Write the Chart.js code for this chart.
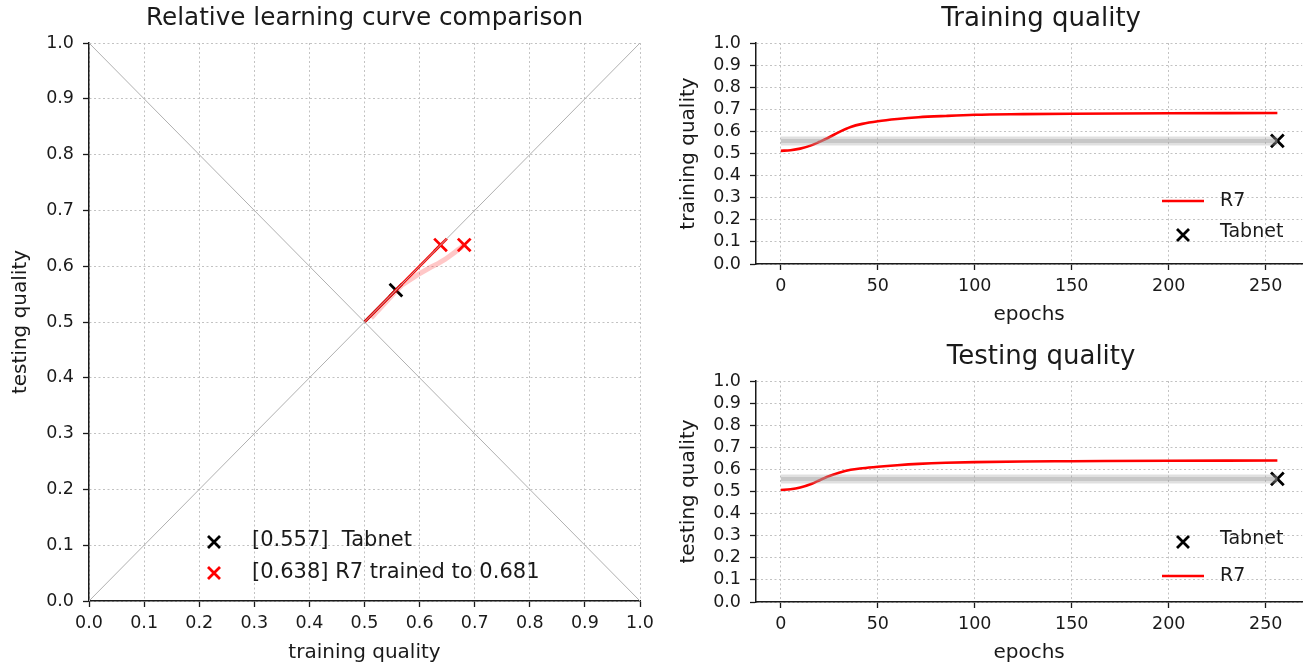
<!DOCTYPE html>
<html lang="en">
<head>
<meta charset="UTF-8">
<title>Relative learning curve comparison</title>
<script src="https://cdn.jsdelivr.net/npm/chart.js"></script>
<style>
  body { margin: 0; background: #fff; width: 1314px; height: 668px; overflow: hidden; }
  .box { position: absolute; }
</style>
</head>
<body>
<div class="box" style="left:0;top:0;width:660px;height:668px"><canvas id="relChart"></canvas></div>
<div class="box" style="left:660px;top:0;width:654px;height:330px"><canvas id="trainChart"></canvas></div>
<div class="box" style="left:660px;top:338px;width:654px;height:330px"><canvas id="testChart"></canvas></div>

<script>
// values
const epochs   = [0, 5, 10, 16, 20, 24, 30, 36, 42, 50, 60, 71, 85, 100, 125, 150, 200, 256];
const r7Train  = [0.512, 0.515, 0.522, 0.538, 0.553, 0.569, 0.597, 0.620, 0.634, 0.646, 0.656, 0.664, 0.670, 0.675, 0.678, 0.680, 0.682, 0.683];
const r7Test   = [0.507, 0.510, 0.518, 0.535, 0.551, 0.567, 0.585, 0.598, 0.605, 0.612, 0.619, 0.625, 0.630, 0.633, 0.636, 0.637, 0.639, 0.640];
const tabnetScore = 0.557;
const tabnetEpoch = 256;
const r7TestFinal = 0.638;
const r7TrainFinal = 0.681;
const chanceLevel = 0.5;

const qualityTicks = [0, 0.1, 0.2, 0.3, 0.4, 0.5, 0.6, 0.7, 0.8, 0.9, 1.0];
const epochTicks = [0, 50, 100, 150, 200, 250];

const FONT = '"DejaVu Sans", sans-serif';
const INK = '#1a1a1a';

Chart.defaults.font.family = FONT;
Chart.defaults.color = INK;
Chart.defaults.animation = false;

// title + hand placed legend, drawn like matplotlib
const extras = {
    id: 'extras',
    afterDraw(chart, args, opts) {
        const ctx = chart.ctx, area = chart.chartArea;
        ctx.save();
        ctx.fillStyle = INK;
        ctx.font = opts.titleSize + 'px ' + FONT;
        ctx.textAlign = 'center';
        ctx.textBaseline = 'middle';
        ctx.fillText(opts.title, (area.left + area.right) / 2 + (opts.titleShift || 0), opts.titleY);

        ctx.font = opts.legendSize + 'px ' + FONT;
        ctx.textAlign = 'left';
        opts.items.forEach((item, i) => {
            const y = opts.legendY + i * opts.legendGap;
            ctx.strokeStyle = item.color;
            if (item.kind === 'line') {
                ctx.lineWidth = 2.5;
                ctx.beginPath();
                ctx.moveTo(opts.markX - 21, y);
                ctx.lineTo(opts.markX + 21, y);
                ctx.stroke();
            } else {
                ctx.lineWidth = 2.8;
                ctx.beginPath();
                ctx.moveTo(opts.markX - 6, y - 6);
                ctx.lineTo(opts.markX + 6, y + 6);
                ctx.moveTo(opts.markX - 6, y + 6);
                ctx.lineTo(opts.markX + 6, y - 6);
                ctx.stroke();
            }
            ctx.fillText(item.label, opts.textX, y + (item.dy || 0));
        });
        ctx.restore();
    }
};

function gridStyle() {
    return {
        color: '#c2c2c2',
        lineWidth: 1,
        tickColor: INK,
        tickLength: 6,
        tickWidth: 1.3,
        tickBorderDash: []
    };
}

// in v4 border.dash styles the grid lines
function borderStyle() {
    return { display: true, color: INK, width: 1.5, dash: [2, 2.5] };
}

function qualityAxis(title, width, titlePad) {
    return {
        type: 'linear',
        min: 0,
        max: 1,
        afterBuildTicks: s => { s.ticks = qualityTicks.map(v => ({ value: v })); },
        afterFit: s => { s.width = width; },
        ticks: { font: { size: 17.5 }, padding: 9, autoSkip: false, callback: v => v.toFixed(1) },
        grid: gridStyle(),
        border: borderStyle(),
        title: { display: true, text: title, font: { size: 20 }, padding: { top: titlePad, bottom: 0 } }
    };
}

function bottomAxis(title, min, max, ticks, fmt, height) {
    return {
        type: 'linear',
        min: min,
        max: max,
        afterBuildTicks: s => { s.ticks = ticks.map(v => ({ value: v })); },
        afterFit: s => { s.height = height; },
        ticks: { font: { size: 17.5 }, padding: 6, autoSkip: false, maxRotation: 0, callback: fmt },
        grid: gridStyle(),
        border: borderStyle(),
        title: { display: true, text: title, font: { size: 20 }, padding: { top: 0, bottom: 3 } }
    };
}

function line(data, color, width, extra) {
    return Object.assign({
        data: data,
        showLine: true,
        borderColor: color,
        backgroundColor: color,
        borderWidth: width,
        pointRadius: 0,
        fill: false
    }, extra || {});
}

function marks(data, color) {
    return {
        data: data,
        showLine: false,
        pointStyle: 'crossRot',
        pointRadius: 9,
        pointBorderWidth: 2.8,
        borderColor: color,
        backgroundColor: color
    };
}

// left: relative comparison
const trajectory = epochs.map((e, i) => ({ x: r7Train[i], y: r7Test[i] }));

new Chart(document.getElementById('relChart'), {
    type: 'scatter',
    data: {
        datasets: [
            line([{ x: 0, y: 0 }, { x: 1, y: 1 }], '#b0b0b0', 1),
            line([{ x: 0, y: 1 }, { x: 1, y: 0 }], '#b0b0b0', 1),
            line(trajectory, 'rgba(255,30,30,0.25)', 5),
            line([{ x: chanceLevel, y: chanceLevel }, { x: r7TestFinal, y: r7TestFinal }], '#ff0000', 2.6),
            line([{ x: chanceLevel, y: chanceLevel }, { x: tabnetScore, y: tabnetScore }], '#000000', 2.6),
            marks([{ x: tabnetScore, y: tabnetScore }], '#000000'),
            marks([{ x: r7TestFinal, y: r7TestFinal }, { x: r7TrainFinal, y: r7TestFinal }], '#ff0000')
        ]
    },
    options: {
        responsive: true,
        maintainAspectRatio: false,
        layout: { padding: { top: 43, right: 20, bottom: 0, left: 0 } },
        scales: {
            x: bottomAxis('training quality', 0, 1, qualityTicks, v => v.toFixed(1), 67),
            y: qualityAxis('testing quality', 89, 9)
        },
        plugins: {
            legend: { display: false },
            tooltip: { enabled: false },
            extras: {
                title: 'Relative learning curve comparison',
                titleSize: 24.7,
                titleY: 19,
                legendSize: 21,
                legendY: 542,
                legendGap: 31,
                markX: 214,
                textX: 252,
                items: [
                    { kind: 'x', color: '#000000', label: '[' + tabnetScore.toFixed(3) + ']  Tabnet', dy: -1 },
                    { kind: 'x', color: '#ff0000', label: '[' + r7TestFinal.toFixed(3) + '] R7 trained to ' + r7TrainFinal.toFixed(3), dy: 0 }
                ]
            }
        }
    },
    plugins: [extras]
});

// right: quality over epochs
function epochChart(id, title, yTitle, values, legendItems) {
    const curve = epochs.map((e, i) => ({ x: e, y: values[i] }));
    const band = [{ x: 0, y: tabnetScore }, { x: tabnetEpoch, y: tabnetScore }];
    return new Chart(document.getElementById(id), {
        type: 'scatter',
        data: {
            datasets: [
                line(band, 'rgba(165,165,165,0.35)', 9),
                line(band, 'rgba(150,150,150,0.35)', 4),
                line(curve, '#ff0000', 2.6, { cubicInterpolationMode: 'monotone' }),
                marks([{ x: tabnetEpoch, y: tabnetScore }], '#000000')
            ]
        },
        options: {
            responsive: true,
            maintainAspectRatio: false,
            layout: { padding: { top: 43, right: 6, bottom: 0, left: 0 } },
            scales: {
                x: bottomAxis('epochs', -12.8, 268.8, epochTicks, v => String(v), 66),
                y: qualityAxis(yTitle, 96, 17)
            },
            plugins: {
                legend: { display: false },
                tooltip: { enabled: false },
                extras: {
                    title: title,
                    titleSize: 26,
                    titleShift: 12,
                    titleY: 19,
                    legendSize: 19,
                    legendY: legendItems.y,
                    legendGap: 34,
                    markX: 523,
                    textX: 560,
                    items: legendItems.items
                }
            }
        },
        plugins: [extras]
    });
}

epochChart('trainChart', 'Training quality', 'training quality', r7Train, {
    y: 201,
    items: [
        { kind: 'line', color: '#ff0000', label: 'R7', dy: 0 },
        { kind: 'x', color: '#000000', label: 'Tabnet', dy: -3 }
    ]
});

epochChart('testChart', 'Testing quality', 'testing quality', r7Test, {
    y: 204,
    items: [
        { kind: 'x', color: '#000000', label: 'Tabnet', dy: -3 },
        { kind: 'line', color: '#ff0000', label: 'R7', dy: 0 }
    ]
});
</script>
</body>
</html>
